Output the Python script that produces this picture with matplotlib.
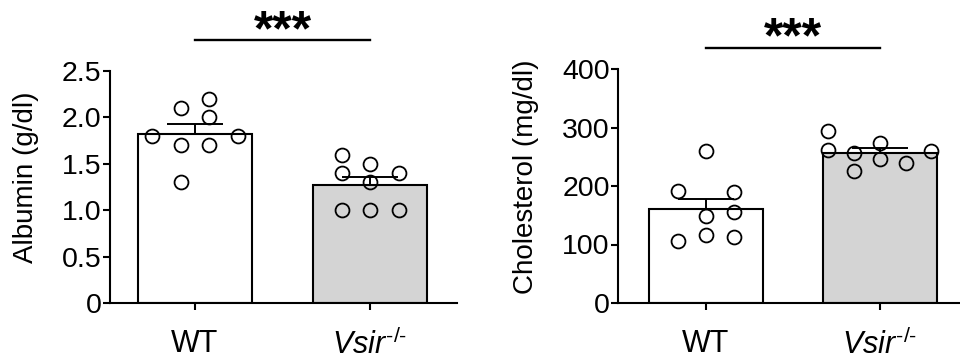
import numpy as np
import matplotlib
matplotlib.use("Agg")
import matplotlib.pyplot as plt

plt.rcParams['font.family'] = ['Liberation Sans', 'DejaVu Sans']
plt.rcParams['mathtext.fontset'] = 'custom'
plt.rcParams['mathtext.rm'] = 'Liberation Sans'
plt.rcParams['mathtext.it'] = 'Liberation Sans:italic'

# ---------------- data ----------------
groups = ["WT", r"$\mathit{Vsir}^{\text{-/-}}$"]
albumin_wt = [1.8, 2.1, 2.2, 2.0, 1.8, 1.7, 1.7, 1.3]
albumin_ko = [1.6, 1.5, 1.4, 1.4, 1.3, 1.0, 1.0, 1.0]
chol_wt = [260, 192, 189, 156, 149, 106, 116, 113]
chol_ko = [294, 261, 257, 226, 273, 246, 239, 260]
albumin_ticks = [0, 0.5, 1.0, 1.5, 2.0, 2.5]
albumin_ticklabels = ["0", "0.5", "1.0", "1.5", "2.0", "2.5"]
chol_ticks = [0, 100, 200, 300, 400]
sig_label = "***"

# ---------------- layout (scatter column offsets) ----------------
alb_wt_off = np.array([-1.5, -0.5, 0.5, 0.5, 1.5, -0.5, 0.5, -0.5]) * 0.163
alb_ko_off = np.array([-1, 0, -1, 1, 0, -1, 0, 1]) * 0.163
chol_wt_off = np.array([0, -1, 1, 1, 0, -1, 0, 1]) * 0.161
chol_ko_off = np.array([-2, -2, -1, -1, 0, 0, 1, 2]) * 0.148

fig = plt.figure(figsize=(9.6, 3.6), dpi=100)
ax1 = fig.add_axes([110/960, 57/360, 347/960, 232/360])
ax2 = fig.add_axes([618/960, 57/360, 342/960, 234/360])

colors = ["white", "#d4d4d4"]

def panel(ax, data, offs, ylim, ticks, ticklabels, ylabel, sig_y, star_y, xlim, labxy):
    xs = [0, 1]
    for i, (vals, off) in enumerate(zip(data, offs)):
        vals = np.asarray(vals, float)
        m = vals.mean()
        sem = vals.std(ddof=1) / np.sqrt(len(vals))
        ax.bar(xs[i], m, width=0.655, color=colors[i], edgecolor='black', linewidth=1.5, zorder=1)
        ax.plot(xs[i] + off, vals, 'o', ms=10, mfc='none', mec='black', mew=1.3, zorder=3)
        ax.errorbar(xs[i], m, yerr=[[0], [sem]], fmt='none', ecolor='black',
                    elinewidth=1.4, capsize=20.5, capthick=1.4, zorder=4)
    ax.set_xlim(*xlim)
    ax.set_ylim(*ylim)
    ax.set_yticks(ticks)
    ax.set_yticklabels(ticklabels)
    ax.set_xticks(xs)
    ax.set_xticklabels(groups)
    for s in ['top', 'right']:
        ax.spines[s].set_visible(False)
    for s in ['left', 'bottom']:
        ax.spines[s].set_linewidth(1.5)
    ax.tick_params(axis='y', labelsize=20.5, width=1.5, length=5, pad=1)
    ax.tick_params(axis='x', labelsize=22, width=1.5, length=5, pad=14)
    ax.set_ylabel(ylabel, fontsize=20)
    ax.yaxis.set_label_coords(*labxy)
    ax.plot([0, 1], [sig_y, sig_y], color='black', lw=1.7, clip_on=False)
    ax.text(0.5, star_y, sig_label, ha='center', va='center', fontsize=36,
            fontweight='bold', clip_on=False)

panel(ax1, [albumin_wt, albumin_ko], [alb_wt_off, alb_ko_off], (0, 2.5),
      albumin_ticks, albumin_ticklabels, "Albumin (g/dl)", 2.834, 2.92,
      (-0.486, 1.497), (-0.205, 0.54))
panel(ax2, [chol_wt, chol_ko], [chol_wt_off, chol_ko_off], (0, 400),
      chol_ticks, [str(t) for t in chol_ticks], "Cholesterol (mg/dl)", 436, 450,
      (-0.506, 1.46), (-0.232, 0.538))

fig.savefig("out.png", dpi=100)
